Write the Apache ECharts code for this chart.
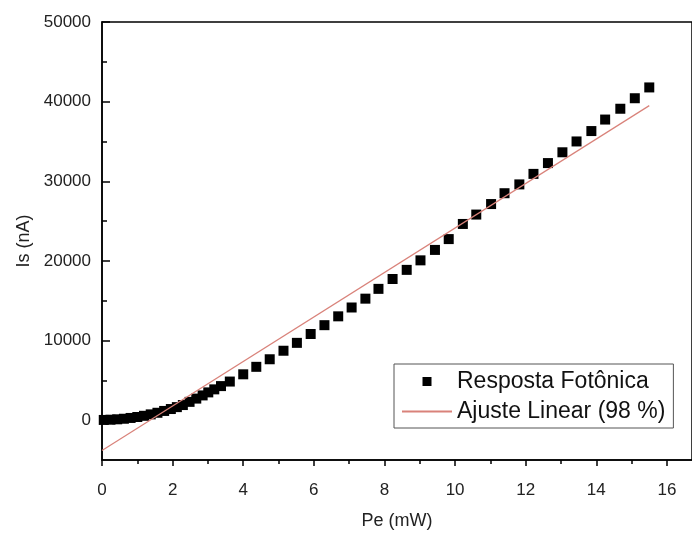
<!DOCTYPE html>
<html>
<head>
<meta charset="utf-8">
<script src="https://cdn.jsdelivr.net/npm/echarts@6/dist/echarts.min.js"></script>
<style>html,body{margin:0;padding:0;background:#fff}#c{width:692px;height:535px}</style>
</head>
<body>
<div id="c"></div>
<script>
// ---- data ----
var peX = [0.05,0.24,0.43,0.62,0.81,1.00,1.19,1.38,1.57,1.76,1.95,2.12,2.29,2.48,2.67,2.85,3.01,3.18,3.37,
           3.62,4.00,4.37,4.75,5.14,5.52,5.91,6.30,6.69,7.07,7.46,7.83,8.23,8.63,9.02,9.43,9.82,10.22,10.60,
           11.02,11.40,11.82,12.22,12.63,13.04,13.44,13.86,14.25,14.68,15.09,15.50];
var isY = [30,60,110,180,280,400,550,730,930,1160,1400,1640,1900,2300,2710,3110,3490,3870,4280,
           4850,5760,6700,7650,8720,9710,10820,11930,13040,14150,15260,16490,17730,18875,20070,21380,22740,24640,25820,
           27140,28500,29608,30928,32285,33640,35000,36305,37750,39107,40427,41784];
var fitX = [0, 15.5];
var fitY = [-3800, 39500];
var xTicks = [0,2,4,6,8,10,12,14,16];
var yTicks = [0,10000,20000,30000,40000,50000];
var seriesNames = ['Resposta Fotônica','Ajuste Linear (98 %)'];

var xMinor = [], yMinor = [];
for (var i = 0; i < xTicks.length - 1; i++) xMinor.push((xTicks[i] + xTicks[i+1]) / 2);
for (var j = 0; j < yTicks.length - 1; j++) yMinor.push((yTicks[j] + yTicks[j+1]) / 2);

var scatterData = peX.map(function (x, k) { return [x, isY[k]]; });
var fitData = fitX.map(function (x, k) { return [x, fitY[k]]; });

var FONT = 'Liberation Sans, Arial, sans-serif';
var XMAX = 16.71;
var chart = echarts.init(document.getElementById('c'), null, {renderer: 'canvas'});
chart.setOption({
  animation: false,
  backgroundColor: '#fff',
  textStyle: {fontFamily: FONT},
  grid: {left: 102, top: 22, right: -1, bottom: 68, show: true, borderColor: '#000', borderWidth: 1.5, backgroundColor: 'transparent'},
  legend: {
    orient: 'vertical', left: 394, top: 364,
    data: [
      {name: seriesNames[0], icon: 'path://M0,0L10,0L10,10L0,10Z'},
      {name: seriesNames[1], itemStyle: {opacity: 0}}
    ],
    borderColor: '#555', borderWidth: 1,
    padding: [6, 8, 5, 7],
    itemWidth: 50, itemHeight: 9, itemGap: 7,
    textStyle: {fontSize: 23, color: '#111', fontFamily: FONT}
  },
  xAxis: [{
    type: 'value', min: 0, max: XMAX,
    name: 'Pe (mW)', nameLocation: 'middle', nameGap: 52,
    nameTextStyle: {fontSize: 18, color: '#222', fontFamily: FONT},
    axisLine: {show: true, onZero: false, lineStyle: {color: '#000', width: 1.5}},
    axisTick: {show: true, inside: false, length: 6, customValues: xTicks, lineStyle: {color: '#000', width: 1.5}},
    axisLabel: {show: true, customValues: xTicks, fontSize: 17, color: '#222', margin: 22, fontFamily: FONT},
    splitLine: {show: false}
  }, {
    type: 'value', min: 0, max: XMAX, position: 'bottom',
    axisLine: {show: false, onZero: false},
    axisTick: {show: true, inside: false, length: 4, customValues: xMinor, lineStyle: {color: '#000', width: 1.5}},
    axisLabel: {show: false},
    splitLine: {show: false}
  }],
  yAxis: [{
    type: 'value', min: -5000, max: 50000,
    name: 'Is (nA)', nameLocation: 'middle', nameGap: 64,
    nameTextStyle: {fontSize: 18, color: '#222', fontFamily: FONT},
    axisLine: {show: true, onZero: false, lineStyle: {color: '#000', width: 1.5}},
    axisTick: {show: true, inside: true, length: 8, customValues: yTicks, lineStyle: {color: '#000', width: 1.5}},
    axisLabel: {show: true, customValues: yTicks, fontSize: 17, color: '#222', margin: 11, fontFamily: FONT,
                formatter: function (v) { return String(v); }},
    splitLine: {show: false}
  }, {
    type: 'value', min: -5000, max: 50000, position: 'left',
    axisLine: {show: false, onZero: false},
    axisTick: {show: true, inside: true, length: 5, customValues: yMinor, lineStyle: {color: '#000', width: 1.5}},
    axisLabel: {show: false},
    splitLine: {show: false}
  }],
  series: [{
    name: seriesNames[0], type: 'scatter', xAxisIndex: 0, yAxisIndex: 0,
    symbol: 'rect', symbolSize: 10,
    itemStyle: {color: '#000', opacity: 1},
    data: scatterData, z: 2
  }, {
    name: seriesNames[1], type: 'line', xAxisIndex: 0, yAxisIndex: 0,
    symbol: 'none', showSymbol: false,
    lineStyle: {color: '#d9827a', width: 1.2},
    itemStyle: {color: '#d9827a'},
    data: fitData, z: 3
  }]
});
</script>
</body>
</html>
